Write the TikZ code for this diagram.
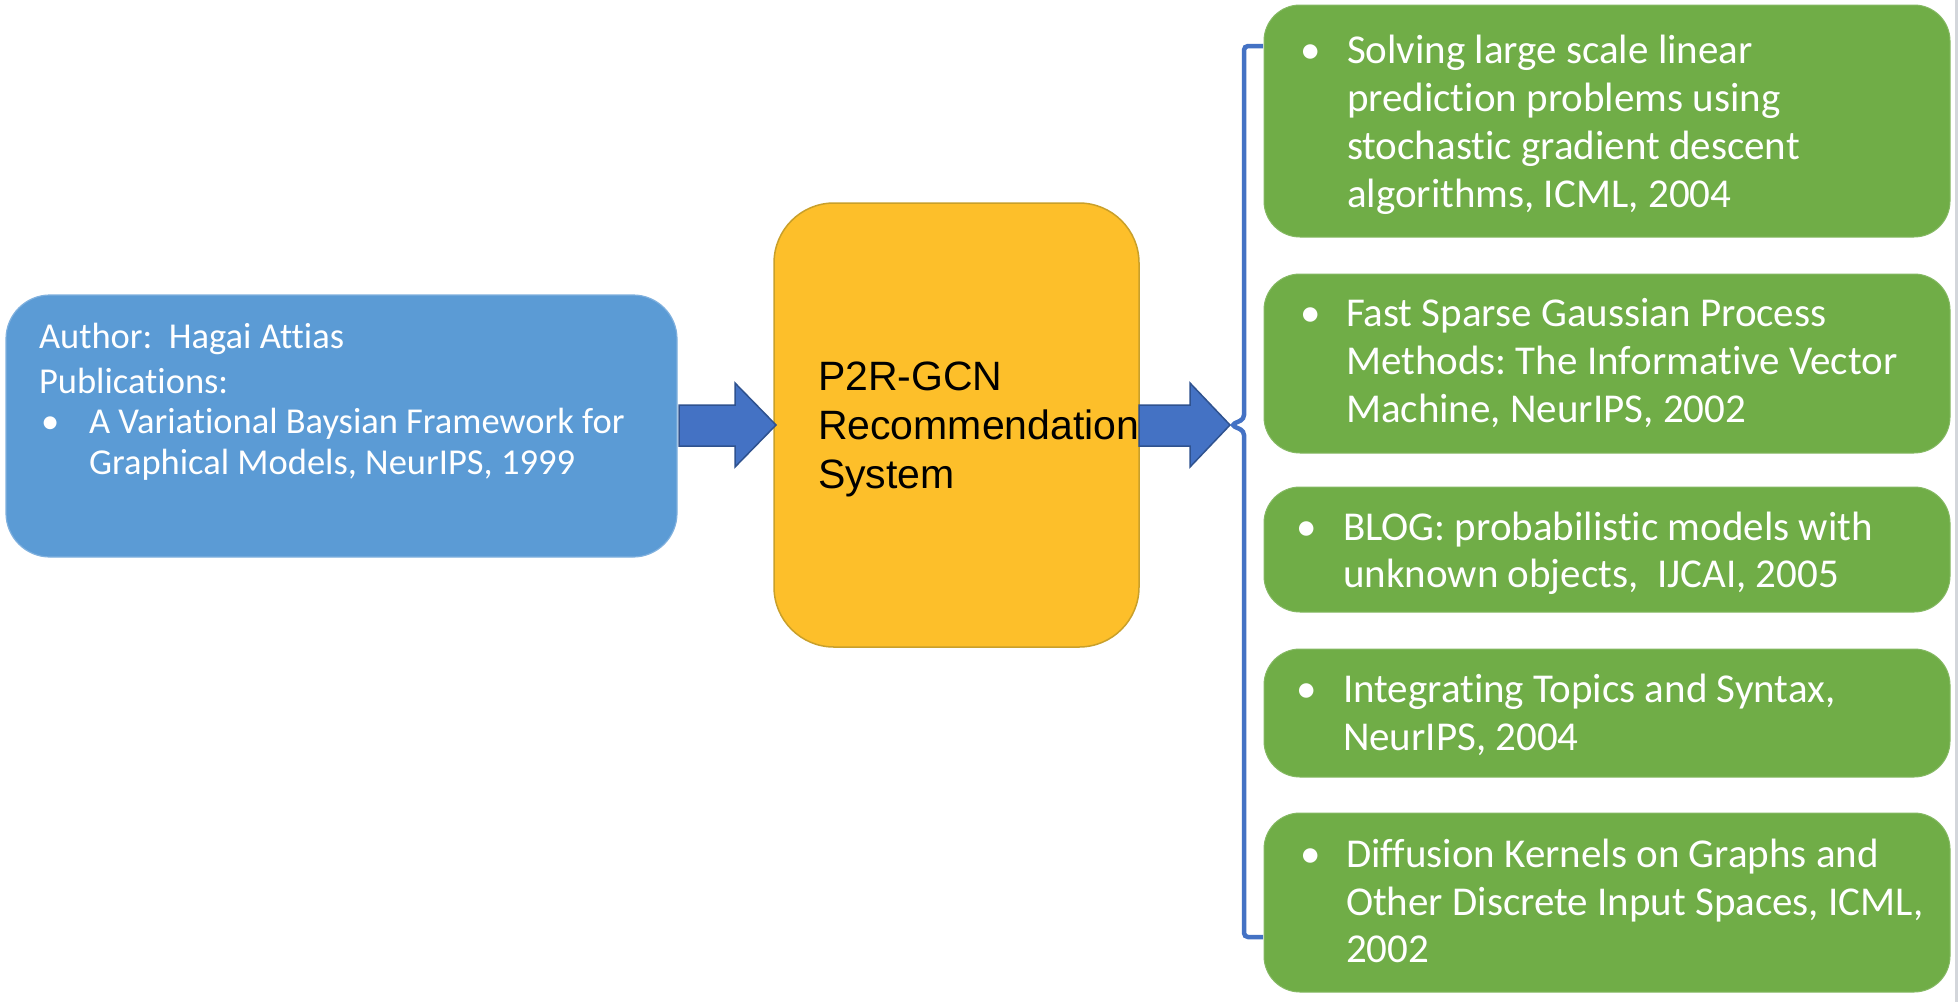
\documentclass[tikz,border=0pt]{standalone}
\usepackage{fontspec}
\newfontfamily\calfont[Ligatures=NoCommon]{Carlito}
\newfontfamily\arialfont{Liberation Sans}
\definecolor{authorblue}{HTML}{5B9BD5}
\definecolor{authorline}{HTML}{7FB0DE}
\definecolor{gcngold}{HTML}{FDBF2A}
\definecolor{gcnline}{HTML}{C9A02A}
\definecolor{pubgreen}{HTML}{70AD47}
\definecolor{arrowblue}{HTML}{4472C4}
\definecolor{arrowline}{HTML}{2F528F}
\definecolor{framegray}{HTML}{D3D6DB}
\frenchspacing
\begin{document}
\begin{tikzpicture}[x=1pt,y=-1pt,
  box/.style={rectangle,inner sep=0pt,outer sep=0pt,anchor=north west},
  authorbox/.style={box,fill=authorblue,draw=authorline,line width=1.2pt,rounded corners=44pt},
  gcnbox/.style={box,fill=gcngold,draw=gcnline,line width=1.5pt,rounded corners=60pt},
  pubbox/.style={box,fill=pubgreen,draw=pubgreen!85!white,line width=1pt,rounded corners=36pt},
  blockarrow/.style={fill=arrowblue,draw=arrowline,line width=1.5pt,line join=miter},
  bracestyle/.style={draw=arrowblue,line width=4.5pt,rounded corners=4pt},
  wtxt/.style={inner sep=0pt,outer sep=0pt,anchor=base west,text=white,font=\calfont\fontsize{36.5}{42}\selectfont},
  gtxt/.style={inner sep=0pt,outer sep=0pt,anchor=base west,text=white,font=\calfont\fontsize{41}{48}\selectfont},
  ytxt/.style={inner sep=0pt,outer sep=0pt,anchor=base west,text=black,font=\arialfont\fontsize{41}{49}\selectfont}]
\useasboundingbox (0,0) rectangle (1958,1002);
\fill[white] (0,0) rectangle (1958,1002);
\fill[framegray] (1955,0) rectangle (1958,1002);

% author box
\node[authorbox,minimum width=671pt,minimum height=262pt] (author) at (6,295) {};
\node[wtxt] (a1) at (39,348) {Author:\ \ Hagai Attias};
\node[wtxt] (a2) at (39,393) {Publications:};
\node[wtxt] (a3b) at (41,433) {\textbullet};
\node[wtxt] (a3) at (89,433) {A Variational Baysian Framework for};
\node[wtxt] (a4) at (89,474) {Graphical Models, NeurIPS, 1999};

% GCN box
\node[gcnbox,minimum width=365pt,minimum height=444pt] (gcn) at (774,203) {};
\node[ytxt] (g1) at (818,390) {P2R-GCN};
\node[ytxt] (g2) at (818,439) {Recommendation};
\node[ytxt] (g3) at (818,488) {System};

% block arrows
\draw[blockarrow] (679,405) -- (735,405) -- (735,383) -- (776,425) -- (735,467) -- (735,446) -- (679,446) -- cycle;
\draw[blockarrow] (1139,405) -- (1190,405) -- (1190,383) -- (1230,425) -- (1190,467) -- (1190,446) -- (1139,446) -- cycle;

% brace
\draw[bracestyle] (1263,46) -- (1244,46) -- (1244,419) -- (1231,425) -- (1244,431) -- (1244,937) -- (1263,937);

% publication boxes
\node[pubbox,minimum width=686pt,minimum height=232pt] (p1) at (1264,5) {};
\node[pubbox,minimum width=686pt,minimum height=179pt] (p2) at (1264,274) {};
\node[pubbox,minimum width=686pt,minimum height=125pt] (p3) at (1264,487) {};
\node[pubbox,minimum width=686pt,minimum height=128pt] (p4) at (1264,649) {};
\node[pubbox,minimum width=686pt,minimum height=179pt] (p5) at (1264,813) {};

\node[gtxt] (p1b) at (1300,63) {\textbullet};
\node[gtxt] (p1l1) at (1347,63) {Solving large scale linear};
\node[gtxt] (p1l2) at (1347,111) {prediction problems using};
\node[gtxt] (p1l3) at (1347,159) {stochastic gradient descent};
\node[gtxt] (p1l4) at (1347,207) {algorithms, ICML, 2004};

\node[gtxt] (p2b) at (1300,326) {\textbullet};
\node[gtxt] (p2l1) at (1346,326) {Fast Sparse Gaussian Process};
\node[gtxt] (p2l2) at (1346,374) {Methods: The Informative Vector};
\node[gtxt] (p2l3) at (1346,422) {Machine, NeurIPS, 2002};

\node[gtxt] (p3b) at (1296,540) {\textbullet};
\node[gtxt] (p3l1) at (1343,540) {BLOG: probabilistic models with};
\node[gtxt] (p3l2) at (1343,587) {unknown objects,\ \ IJCAI, 2005};

\node[gtxt] (p4b) at (1296,702) {\textbullet};
\node[gtxt] (p4l1) at (1343,702) {Integrating Topics and Syntax,};
\node[gtxt] (p4l2) at (1343,750) {NeurIPS, 2004};

\node[gtxt] (p5b) at (1300,867) {\textbullet};
\node[gtxt] (p5l1) at (1346,867) {Diffusion Kernels on Graphs and};
\node[gtxt] (p5l2) at (1346,915) {Other Discrete Input Spaces, ICML,};
\node[gtxt] (p5l3) at (1346,962) {2002};
\end{tikzpicture}
\end{document}
